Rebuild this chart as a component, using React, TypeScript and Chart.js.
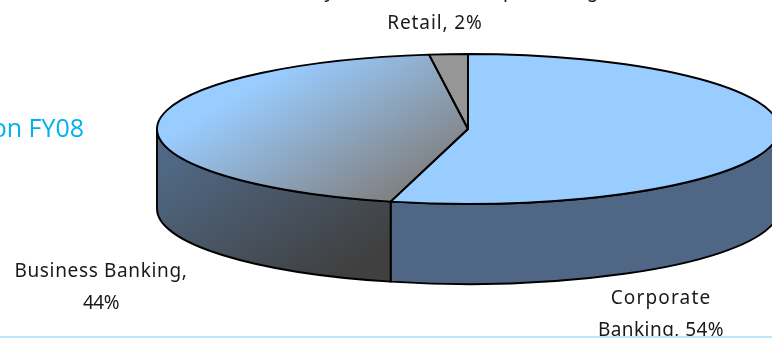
import React, { useEffect, useRef } from "react";
import { Chart, registerables } from "chart.js";

Chart.register(...registerables);

// Income split by business line, in percent
const categories = ["Corporate Banking", "Business Banking", "Retail"];
const shares = [54, 44, 2];
const sliceLabels = [
  ["Corporate", "Banking, 54%"],
  ["Business Banking,", "44%"],
  ["Money Market and Group Banking", "Retail, 2%"],
];
const headingText = "Contribution FY08";

const WIDTH = 772;
const HEIGHT = 338;
const CENTER_X = 468;
const CENTER_Y = 129;
const RADIUS_X = 311;
const RADIUS_Y = 75;
const STRETCH = RADIUS_X / RADIUS_Y;
const WALL_DEPTH = 80;

const LABEL_FONT = "19px 'Noto Sans'";
const labelStyles = [
  { x: 661, y: 304, spacing: [1.15, 0.45] },
  { x: 101, y: 277, spacing: [0.65, -0.5] },
  { x: 435, y: 29, spacing: [0.7, 0.9] },
];

// Linear gradient given in page pixels, for a fill made under the horizontal stretch
function stretchedGradient(ctx: CanvasRenderingContext2D, x0: number, y0: number, x1: number, y1: number) {
  const dx = x1 - x0;
  const dy = y1 - y0;
  const len2 = dx * dx + dy * dy;
  const gx = (dx / len2) * STRETCH;
  const gy = dy / len2;
  const g2 = gx * gx + gy * gy;
  const ux = CENTER_X + (x0 - CENTER_X) / STRETCH;
  return ctx.createLinearGradient(ux, y0, ux + gx / g2, y0 + gy / g2);
}

const tiltedPie = {
  id: "tiltedPie",
  beforeDatasetsDraw(chart: any) {
    const { ctx } = chart;
    const arcs = chart.getDatasetMeta(0).data;

    // Side wall of the disc: only the front half of the rim can be seen
    ctx.save();
    ctx.lineWidth = 1.9;
    ctx.strokeStyle = "#000000";
    ctx.lineJoin = "round";
    arcs.forEach((arc: any, i: number) => {
      const from = Math.max(arc.startAngle, 0);
      const to = Math.min(arc.endAngle, Math.PI);
      if (to <= from) return;
      ctx.beginPath();
      ctx.ellipse(CENTER_X, CENTER_Y, RADIUS_X, RADIUS_Y, 0, from, to);
      ctx.ellipse(CENTER_X, CENTER_Y + WALL_DEPTH, RADIUS_X, RADIUS_Y, 0, to, from, true);
      ctx.closePath();
      if (i === 1) {
        const wall = ctx.createLinearGradient(200, 150, 300, 300);
        wall.addColorStop(0, "#4F6783");
        wall.addColorStop(1, "#404040");
        ctx.fillStyle = wall;
      } else {
        ctx.fillStyle = "#4F6685";
      }
      ctx.fill();
      ctx.stroke();
    });
    ctx.restore();

    // The library's circular slices are stretched into the top face
    ctx.save();
    ctx.translate(CENTER_X, 0);
    ctx.scale(STRETCH, 1);
    ctx.translate(-CENTER_X, 0);
  },
  afterDatasetsDraw(chart: any) {
    const { ctx } = chart;
    ctx.restore();

    const arcs = chart.getDatasetMeta(0).data;
    ctx.save();
    ctx.lineWidth = 1.9;
    ctx.strokeStyle = "#000000";
    ctx.lineJoin = "round";
    arcs.forEach((arc: any) => {
      ctx.beginPath();
      ctx.moveTo(CENTER_X, CENTER_Y);
      ctx.ellipse(CENTER_X, CENTER_Y, RADIUS_X, RADIUS_Y, 0, arc.startAngle, arc.endAngle);
      ctx.closePath();
      ctx.stroke();
    });
    ctx.restore();
  },
  afterDraw(chart: any) {
    const { ctx } = chart;
    ctx.save();
    ctx.fillStyle = "#1A1A1A";
    ctx.font = LABEL_FONT;
    ctx.textAlign = "center";
    ctx.textBaseline = "alphabetic";
    sliceLabels.forEach((lines, i) => {
      const style = labelStyles[i];
      const firstLineOffset = i === 2 ? -1 : 0;
      lines.forEach((line, k) => {
        ctx.letterSpacing = `${style.spacing[k]}px`;
        ctx.fillText(line, style.x, style.y + (k + firstLineOffset) * 32);
      });
    });

    ctx.letterSpacing = "0px";
    ctx.fillStyle = "#00B0F0";
    ctx.font = "25px 'Open Sans'";
    ctx.textAlign = "right";
    ctx.fillText(headingText, 84, 137);

    // Thin rule along the foot of the slide
    ctx.fillStyle = "#BDE5FB";
    ctx.fillRect(0, 336, WIDTH, 2);
    ctx.restore();
  },
};

export default function App() {
  const canvasRef = useRef<HTMLCanvasElement>(null);

  useEffect(() => {
    document.body.style.margin = "0";
    const canvas = canvasRef.current!;
    const ctx = canvas.getContext("2d")!;
    const businessFill = stretchedGradient(ctx, 230, 100, 316, 246);
    businessFill.addColorStop(0, "#99CCFF");
    businessFill.addColorStop(1, "#808080");

    const chart = new Chart(canvas, {
      type: "pie",
      data: {
        labels: categories,
        datasets: [
          {
            data: shares,
            backgroundColor: ["#99CCFF", businessFill, "#969696"],
            borderWidth: 0,
          },
        ],
      },
      options: {
        animation: false,
        responsive: false,
        devicePixelRatio: 1,
        layout: {
          padding: {
            left: 2 * CENTER_X - WIDTH,
            right: 0,
            top: CENTER_Y - RADIUS_Y,
            bottom: HEIGHT - CENTER_Y - RADIUS_Y,
          },
        },
        plugins: {
          legend: { display: false },
          tooltip: { enabled: false },
        },
      },
      plugins: [tiltedPie],
    });
    return () => chart.destroy();
  }, []);

  return (
    <div style={{ width: WIDTH, height: HEIGHT, overflow: "hidden" }}>
      <canvas ref={canvasRef} width={WIDTH} height={HEIGHT} style={{ display: "block" }} />
    </div>
  );
}
